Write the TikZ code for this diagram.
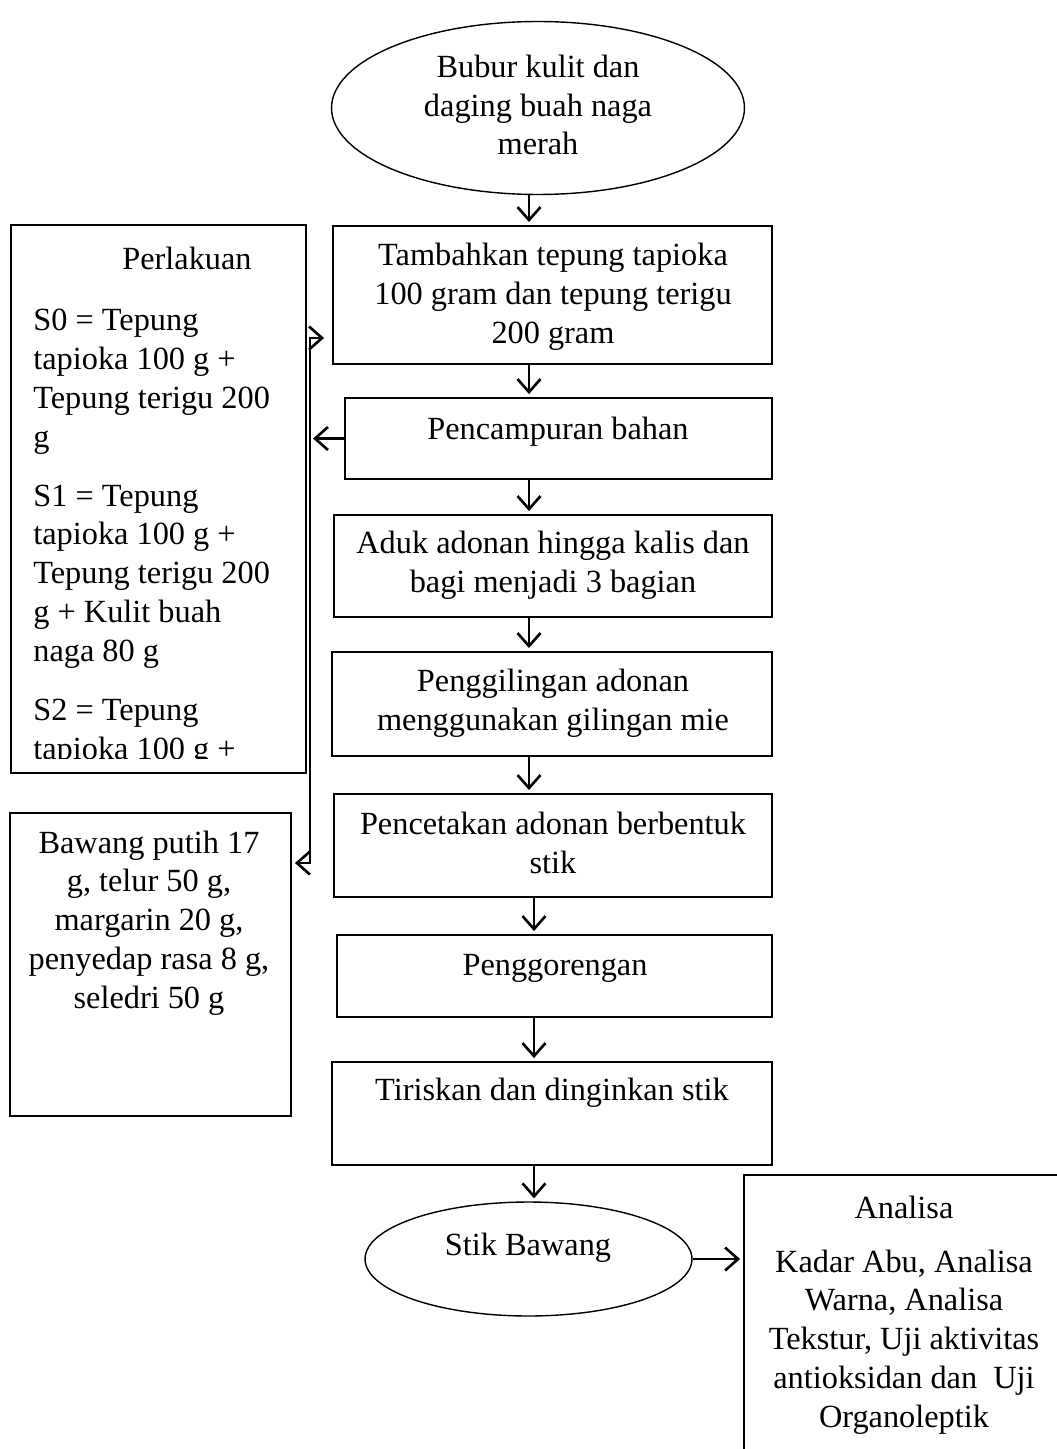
\documentclass[tikz,border=0pt]{standalone}
\usepackage{fontspec}
\setmainfont{Liberation Serif}
\usetikzlibrary{arrows.meta,shapes.geometric}
\begin{document}
\begin{tikzpicture}[x=0.02cm,y=-0.02cm,
    font=\fontsize{18.4}{22.1}\selectfont,
    box/.style={draw,line width=1.1pt,inner sep=0pt},
    oval/.style={draw,ellipse,line width=0.8pt,inner sep=0pt},
    txt/.style={inner sep=0pt,align=center},
    arr/.style={-{Straight Barb[length=0.26cm,width=0.46cm]},line width=1.5pt,shorten >=0.06cm},
    arrboth/.style={{Straight Barb[length=0.26cm,width=0.46cm]}-{Straight Barb[length=0.26cm,width=0.46cm]},line width=1.5pt,shorten >=0.16cm,shorten <=0.06cm}]
        \useasboundingbox (0,0) rectangle (1057,1449);
        \clip (0,0) rectangle (1057,1449);
        \node[oval,minimum width=8.26cm,minimum height=3.46cm] (bubur) at (538,108) {};
        \node[txt] (bubur-t) at (538,105) {Bubur kulit dan\\daging buah naga\\merah};
        \node[box,minimum width=8.78cm,minimum height=2.76cm] (tambah) at (552.5,295) {};
        \node[txt] (tambah-t) at (553,297) {Tambahkan tepung tapioka\\100 gram dan tepung terigu\\200 gram};
        \node[box,minimum width=8.54cm,minimum height=1.62cm] (campur) at (558.5,438.5) {};
        \node[txt] (campur-t) at (558,432) {Pencampuran bahan};
        \node[box,minimum width=8.76cm,minimum height=2.04cm] (aduk) at (553,566) {};
        \node[txt] (aduk-t) at (553,565) {Aduk adonan hingga kalis dan\\bagi menjadi 3 bagian};
        \node[box,minimum width=8.8cm,minimum height=2.08cm] (giling) at (552,704) {};
        \node[txt] (giling-t) at (553,703) {Penggilingan adonan\\menggunakan gilingan mie};
        \node[box,minimum width=8.76cm,minimum height=2.06cm] (cetak) at (553,845.5) {};
        \node[txt] (cetak-t) at (553,843) {Pencetakan adonan berbentuk\\stik};
        \node[box,minimum width=8.7cm,minimum height=1.64cm] (goreng) at (554.5,976) {};
        \node[txt] (goreng-t) at (555,968) {Penggorengan};
        \node[box,minimum width=8.8cm,minimum height=2.06cm] (tiris) at (552,1113.5) {};
        \node[txt] (tiris-t) at (552,1093) {Tiriskan dan dinginkan stik};
        \node[oval,minimum width=6.54cm,minimum height=2.28cm] (stik) at (528.5,1259) {};
        \node[txt] (stik-t) at (528,1248) {Stik Bawang};
        \node[box,minimum width=6.4cm,minimum height=5.9cm] (analisa) at (904,1322.5) {};
        \node[txt] (analisa-h) at (904,1207) {Analisa};
        \node[txt] (analisa-t) at (904,1342) {Kadar Abu, Analisa\\Warna, Analisa\\Tekstur, Uji aktivitas\\antioksidan dan \ Uji\\Organoleptik};
        \node[box,minimum width=5.9cm,minimum height=10.96cm] (perlakuan) at (158.5,499) {};
        \node[txt] (perlakuan-h) at (187,258) {Perlakuan};
        \begin{scope}
            \clip (11,225) rectangle (306,758);
            \node[inner sep=0pt,align=left,anchor=north west] (perlakuan-t) at (33,309) {S0 = Tepung\\tapioka 100 g +\\Tepung terigu 200\\g\\[0.4cm]S1 = Tepung\\tapioka 100 g +\\Tepung terigu 200\\g + Kulit buah\\naga 80 g\\[0.4cm]S2 = Tepung\\tapioka 100 g +\\Tepung terigu 200};
        \end{scope}
        \node[box,minimum width=5.62cm,minimum height=6.06cm] (bawang) at (150.5,964.5) {};
        \node[txt] (bawang-t) at (149,923) {Bawang putih 17\\g, telur 50 g,\\margarin 20 g,\\penyedap rasa 8 g,\\seledri 50 g};
        \coordinate (sa) at (529,0);
        \coordinate (sb) at (534,0);
        \coordinate (jt) at (310,338);
        \coordinate (jb) at (310,863);
        \draw[arr] (bubur.south -| sa) -- (tambah.north -| sa);
        \draw[arr] (tambah.south -| sa) -- (campur.north -| sa);
        \draw[arr] (campur.south -| sa) -- (aduk.north -| sa);
        \draw[arr] (aduk.south -| sa) -- (giling.north -| sa);
        \draw[arr] (giling.south -| sa) -- (cetak.north -| sa);
        \draw[arr] (cetak.south -| sb) -- (goreng.north -| sb);
        \draw[arr] (goreng.south -| sb) -- (tiris.north -| sb);
        \draw[arr] (tiris.south -| sb) -- (stik.north -| sb);
        \draw[arr] (stik.east) -- (stik.east -| analisa.west);
        \draw[arr] (campur.west) -- (campur.west -| jt);
        \draw[arrboth] (jb -| bawang.east) -- (jb) -- (jt) -- (jt -| tambah.west);
    \end{tikzpicture}
\end{document}
